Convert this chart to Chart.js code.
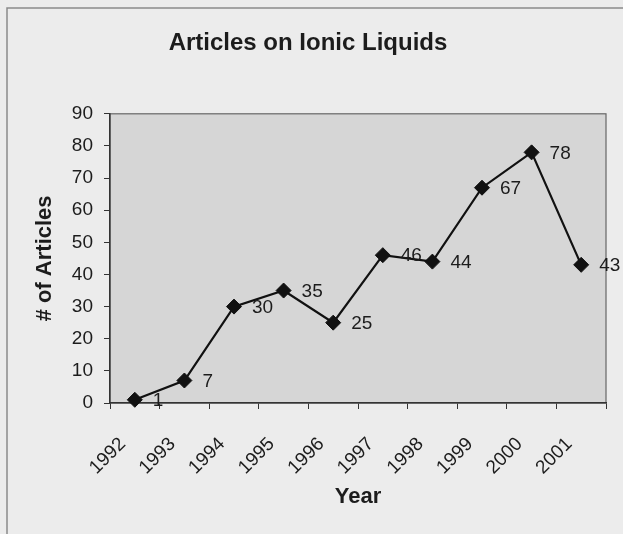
<!DOCTYPE html>
<html>
<head>
<meta charset="utf-8">
<script src="https://cdn.jsdelivr.net/npm/chart.js@4"></script>
<style>
  html, body { margin: 0; padding: 0; background: #ececec; }
  #wrap { position: relative; width: 623px; height: 534px; }
</style>
</head>
<body>
<div id="wrap"><canvas id="chart" width="623" height="534"></canvas></div>
<script>
const years = ["1992", "1993", "1994", "1995", "1996", "1997", "1998", "1999", "2000", "2001"]
const articles = [1, 7, 30, 35, 25, 46, 44, 67, 78, 43]
const yMin = 0
const yMax = 90
const yStep = 10

Chart.defaults.font.family = "'Liberation Sans', Arial, sans-serif"
Chart.defaults.color = "#1c1c1c"

// page background, outer frame and the grey plot area
const backdrop = {
  id: "backdrop",
  beforeDraw(chart) {
    const { ctx, chartArea: a } = chart
    ctx.save()
    ctx.fillStyle = "#ececec"
    ctx.fillRect(0, 0, chart.width, chart.height)
    ctx.strokeStyle = "#8a8a8a"
    ctx.lineWidth = 1.5
    ctx.beginPath()
    ctx.moveTo(7, chart.height)
    ctx.lineTo(7, 8)
    ctx.lineTo(chart.width, 8)
    ctx.stroke()
    ctx.fillStyle = "#d6d6d6"
    ctx.fillRect(a.left, a.top, a.right - a.left, a.bottom - a.top)
    ctx.strokeStyle = "#666"
    ctx.lineWidth = 1.2
    ctx.strokeRect(a.left, a.top, a.right - a.left, a.bottom - a.top)
    ctx.restore()
  }
}

// value labels to the right of each point
const valueLabels = {
  id: "valueLabels",
  afterDatasetsDraw(chart) {
    const { ctx } = chart
    const meta = chart.getDatasetMeta(0)
    ctx.save()
    ctx.font = "19px 'Liberation Sans', Arial, sans-serif"
    ctx.fillStyle = "#1c1c1c"
    ctx.textAlign = "left"
    ctx.textBaseline = "middle"
    meta.data.forEach((pt, i) => {
      ctx.fillText(String(articles[i]), pt.x + 18, pt.y + 1)
    })
    ctx.restore()
  }
}

new Chart(document.getElementById("chart"), {
  type: "line",
  data: {
    labels: years,
    datasets: [{
      data: articles,
      borderColor: "#111",
      borderWidth: 2.2,
      tension: 0,
      fill: false,
      pointStyle: "rectRot",
      pointRadius: 7.5,
      pointBackgroundColor: "#111",
      pointBorderColor: "#111",
      pointBorderWidth: 1,
      clip: false
    }]
  },
  options: {
    responsive: false,
    animation: false,
    layout: { padding: { left: 10, right: 17, top: 0, bottom: 14 } },
    plugins: {
      legend: { display: false },
      tooltip: { enabled: false },
      title: {
        display: true,
        text: "Articles on Ionic Liquids",
        color: "#1c1c1c",
        font: { size: 24, weight: "bold" },
        padding: { top: 29, bottom: 56 }
      }
    },
    scales: {
      x: {
        type: "category",
        offset: true,
        grid: { offset: true, drawOnChartArea: false, tickLength: 6, color: "#333" },
        border: { color: "#333", width: 1.5 },
        ticks: {
          autoSkip: false,
          maxRotation: 45,
          minRotation: 45,
          padding: 24,
          labelOffset: -12,
          font: { size: 19 }
        },
        title: {
          display: true,
          text: "Year",
          font: { size: 22, weight: "bold" },
          padding: { top: 0, bottom: 10 }
        },
        afterFit(scale) { scale.height = 117 }
      },
      y: {
        min: yMin,
        max: yMax,
        grid: { drawOnChartArea: false, tickLength: 6, color: "#333" },
        border: { color: "#333", width: 1.5 },
        ticks: { stepSize: yStep, padding: 11, font: { size: 19 } },
        title: {
          display: true,
          text: "# of Articles",
          font: { size: 22, weight: "bold" },
          padding: { top: 22, bottom: 0 }
        },
        afterFit(scale) { scale.width = 100 }
      }
    }
  },
  plugins: [backdrop, valueLabels]
})
</script>
</body>
</html>
